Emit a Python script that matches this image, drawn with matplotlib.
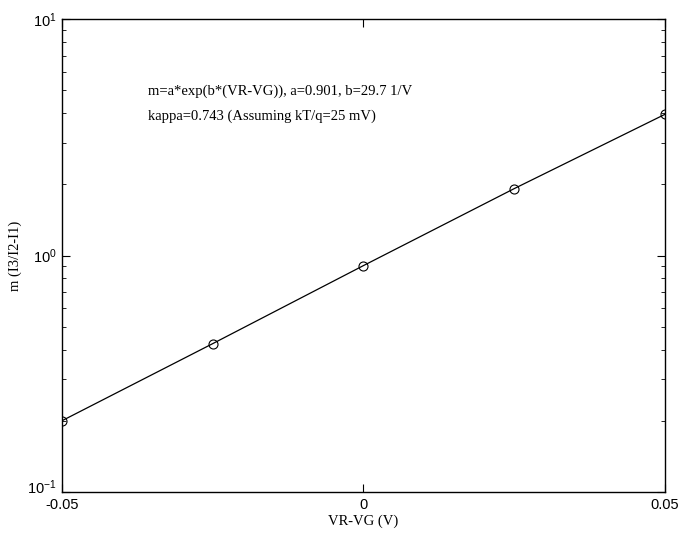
import numpy as np
import matplotlib
matplotlib.use("Agg")
import matplotlib.pyplot as plt
import matplotlib.transforms as mtransforms
from matplotlib.ticker import LogLocator, NullFormatter

# data
vr_vg = [-0.05, -0.025, 0.0, 0.025, 0.05]
m_vals = [0.20, 0.424, 0.907, 1.92, 3.96]
xtick_vals = [-0.05, 0, 0.05]
xtick_labels = ['-0.05', '0', '0.05']

fig = plt.figure(figsize=(6.8, 5.33), dpi=100)
ax = fig.add_axes([0.091, 0.077, 0.887, 0.887])

ax.semilogy(vr_vg, m_vals, color='black', linewidth=0.9,
            marker='o', markersize=6.5, markerfacecolor='none',
            markeredgecolor='black', markeredgewidth=0.8)

ax.set_xlim(-0.05, 0.05)
ax.set_ylim(0.1, 10)
ax.set_xticks(xtick_vals)
ax.set_xticklabels(xtick_labels)
ax.yaxis.set_major_locator(LogLocator(base=10))
ax.yaxis.set_minor_locator(LogLocator(base=10, subs=np.arange(2, 10)))
ax.yaxis.set_minor_formatter(NullFormatter())

sans = ['Liberation Sans', 'DejaVu Sans']
serif = ['Liberation Serif', 'DejaVu Serif']
for lab in ax.get_xticklabels() + ax.get_yticklabels():
    lab.set_family(sans)
    lab.set_fontsize(10.5)

ax.tick_params(which='both', direction='in', top=True, right=True)
ax.tick_params(which='major', length=6, width=0.8)
ax.tick_params(which='minor', length=3, width=0.6)
ax.tick_params(axis='x', pad=4)
for s in ax.spines.values():
    s.set_linewidth(1.0)

# lift the bottom y label a little, like the reference
fig.canvas.draw()
ylabs = ax.get_yticklabels()
lift = mtransforms.ScaledTranslation(0, 4 / 72, fig.dpi_scale_trans)
for lab in ylabs:
    if lab.get_position()[1] <= 0.1001:
        lab.set_transform(lab.get_transform() + lift)

ax.set_xlabel('VR-VG (V)', family=serif, fontsize=10.5, labelpad=2)
ax.set_ylabel('m (I3/I2-I1)', family=serif, fontsize=10.5, labelpad=4)

ax.text(0.143, 0.841, 'm=a*exp(b*(VR-VG)), a=0.901, b=29.7 1/V',
        transform=ax.transAxes, family=serif, fontsize=10.5)
ax.text(0.143, 0.788, 'kappa=0.743 (Assuming kT/q=25 mV)',
        transform=ax.transAxes, family=serif, fontsize=10.5)

fig.savefig('out.png', dpi=100)
